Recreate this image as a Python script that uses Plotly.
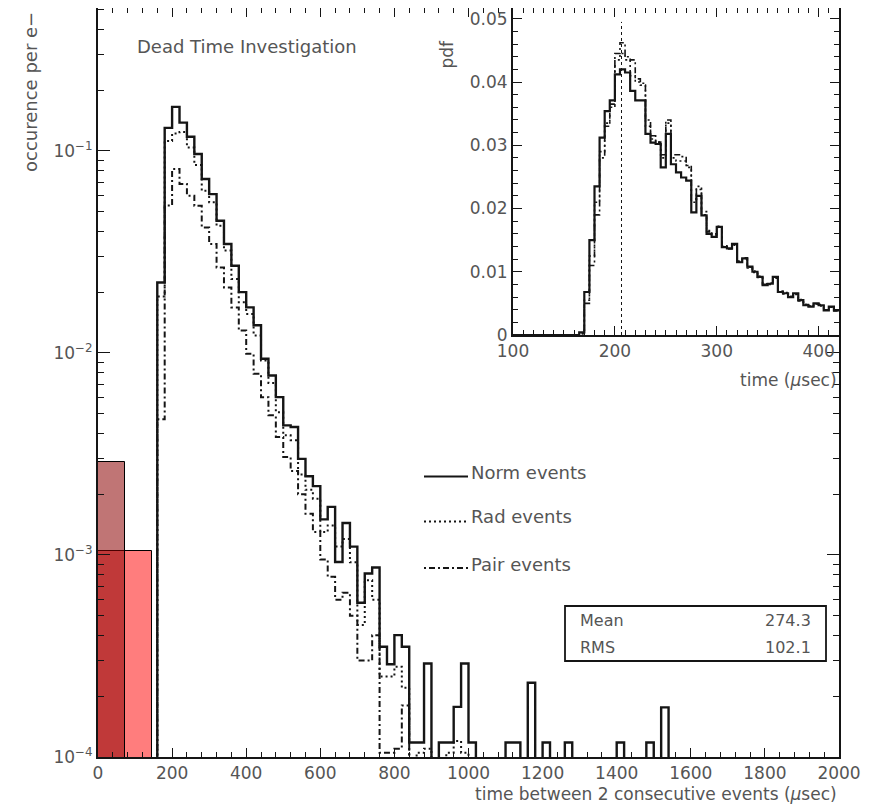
import plotly.graph_objects as go

# ---------------- data ----------------
bin_width = 20
bin_start = 160
norm_main = [0.0223, 0.130, 0.165, 0.138, 0.1175, 0.0964, 0.0726, 0.0611, 0.0451, 0.0346,
             0.0270, 0.0200, 0.0168, 0.0137, 0.00935, 0.00773, 0.00604, 0.00438, 0.00430, 0.00299,
             0.00245, 0.00219, 0.00150, 0.00173, 0.000923, 0.00144, 0.00110, 0.000580, 0.000809, 0.000867,
             0.000351, 0.000288, 0.000401, 0.000351, 0.000118, 0.000118, 0.000290, 0, 0.000118, 0.000118,
             0.000177, 0.000290, 0.000118, 0, 0, 0, 0, 0.000118, 0.000118, 0,
             0.000233, 0, 0.000118, 0, 0, 0.000118, 0, 0, 0, 0,
             0, 0, 0.000118, 0, 0, 0, 0.000118, 0, 0.000176]
rad_main = [0.019, 0.112, 0.122, 0.124, 0.104, 0.085, 0.0635, 0.0556, 0.0426, 0.0321,
            0.0232, 0.0178, 0.0156, 0.0122, 0.00916, 0.0071, 0.00509, 0.00391, 0.0037, 0.0025,
            0.0021, 0.0019, 0.0013, 0.0014, 0.0011, 0.0012, 0.00092, 0.00045, 0.00075, 0.00060,
            0.00025, 0.00025, 0.00028, 0.00022, 0, 0.000105, 0.00011, 0, 0, 0.000105,
            0.00012, 0.000105]
pair_main = [0.0047, 0.0536, 0.0813, 0.0686, 0.060, 0.0535, 0.0418, 0.0346, 0.0265, 0.0211,
             0.0168, 0.0129, 0.00989, 0.00788, 0.00604, 0.00491, 0.00383, 0.00305, 0.0026, 0.0020,
             0.0016, 0.0013, 0.00095, 0.00078, 0.0006, 0.00065, 0.0005, 0.00030, 0.00030, 0.0004,
             0.000105, 0.000105, 0.00011, 0.00018]

# red overlay bars
red_bar_x = [36.5, 110.0]
red_bar_y = [0.00105, 0.00105]
dark_bar_x = [36.5]
dark_bar_y = [0.0029]
bar_w = 73

# inset (pdf), 5 usec bins
inset_start = 160
inset_width = 5
norm_inset = [0, 0.0004, 0.0068, 0.0150, 0.0235, 0.0312, 0.0354, 0.0371, 0.0412, 0.0420,
              0.0415, 0.0386, 0.0371, 0.0371, 0.0318, 0.0304, 0.0302, 0.0265, 0.0318, 0.0270,
              0.0257, 0.0249, 0.0244, 0.0194, 0.0220, 0.0189, 0.0160, 0.0155, 0.0171, 0.0139,
              0.0137, 0.0144, 0.0115, 0.0121, 0.0108, 0.0100, 0.0092, 0.0079, 0.0081, 0.0092,
              0.0068, 0.0066, 0.0060, 0.0066, 0.0055, 0.0047, 0.0045, 0.0050, 0.0047, 0.0039,
              0.0045, 0.0039]
rad_inset = [0, 0.0002, 0.0055, 0.0125, 0.021, 0.029, 0.0335, 0.036, 0.0435, 0.0445,
             0.0435, 0.041, 0.040, 0.0395, 0.033, 0.031, 0.0305, 0.028, 0.0335, 0.028,
             0.0275, 0.0275, 0.0265, 0.021, 0.0235, 0.019, 0.0165, 0.016, 0.0172, 0.014,
             0.0138, 0.0142, 0.0117, 0.012, 0.0106, 0.0101, 0.0093, 0.0081, 0.0082, 0.009,
             0.0069, 0.0067, 0.0061, 0.0064, 0.0056, 0.0048, 0.0046, 0.0049, 0.0046, 0.0040,
             0.0044, 0.0040]
pair_inset = [0, 0.0002, 0.005, 0.011, 0.019, 0.028, 0.033, 0.0365, 0.0445, 0.0462,
              0.044, 0.0435, 0.0405, 0.0398, 0.034, 0.0315, 0.0305, 0.0285, 0.034, 0.0285,
              0.0285, 0.0282, 0.0268, 0.0215, 0.023, 0.0195, 0.0163, 0.0158, 0.0170, 0.0141,
              0.0136, 0.0143, 0.0116, 0.0122, 0.0107, 0.0099, 0.0091, 0.0080, 0.0080, 0.0091,
              0.0069, 0.0065, 0.0061, 0.0065, 0.0054, 0.0048, 0.0046, 0.0049, 0.0048, 0.0040,
              0.0044, 0.0038]
peak_marker = 206.5

stat_labels = ["Mean", "RMS"]
stat_values = ["274.3", "102.1"]

x_ticks = list(range(0, 2001, 200))
y_ticks = [1e-4, 1e-3, 1e-2, 1e-1]
y_ticktext = ["10<sup>\u22124</sup>", "10<sup>\u22123</sup>", "10<sup>\u22122</sup>", "10<sup>\u22121</sup>"]
inset_xticks = [100, 200, 300, 400]
inset_yticks = [0, 0.01, 0.02, 0.03, 0.04, 0.05]
inset_yticktext = ["0", "0.01", "0.02", "0.03", "0.04", "0.05"]

# ---------------- helpers ----------------
def steps(start, width, vals, floor):
    edges = [start + i * width for i in range(len(vals) + 1)]
    xs = [edges[0]] + edges[:-1] + [edges[-1]]
    ys = [floor] + [v if v > 0 else floor for v in vals] + [floor]
    return xs, ys

# page-pixel -> paper (plot area spans page x 98..839, y 8..757; body margin 8px)
def px(x):
    return (x - 98) / 741.0

def py(y):
    return (757 - y) / 749.0

INK = "#151515"
TXT = "#555555"
FONT = "DejaVu Sans"

fig = go.Figure()

# red bars
fig.add_trace(go.Bar(x=red_bar_x, y=red_bar_y, width=[bar_w] * len(red_bar_x),
                     marker=dict(color="rgba(255,0,0,0.51)", line=dict(color="black", width=1)),
                     xaxis="x", yaxis="y", showlegend=False))
fig.add_trace(go.Bar(x=dark_bar_x, y=dark_bar_y, width=[bar_w] * len(dark_bar_x),
                     marker=dict(color="rgba(138,0,0,0.54)", line=dict(color="black", width=1)),
                     xaxis="x", yaxis="y", showlegend=False))

floor_main = 1e-6
for name, vals, dash, w in [("Pair", pair_main, "2px,3px,6px,3px", 2),
                            ("Rad", rad_main, "2px,3px", 2),
                            ("Norm", norm_main, "solid", 2.4)]:
    xs, ys = steps(bin_start, bin_width, vals, floor_main)
    fig.add_trace(go.Scatter(x=xs, y=ys, mode="lines", line=dict(color=INK, width=w, dash=dash, shape="hv"),
                             xaxis="x", yaxis="y", showlegend=False, name=name))

# inset
for name, vals, dash, w in [("Pair", pair_inset, "2px,3px,6px,3px", 1.6),
                            ("Rad", rad_inset, "2px,3px", 1.6),
                            ("Norm", norm_inset, "solid", 2.2)]:
    edges = [inset_start + i * inset_width for i in range(len(vals) + 1)]
    xs = [100] + edges[:-1] + [edges[-1]]
    ys = [0] + list(vals) + [vals[-1]]
    fig.add_trace(go.Scatter(x=xs, y=ys, mode="lines", line=dict(color=INK, width=w, dash=dash, shape="hv"),
                             xaxis="x2", yaxis="y2", showlegend=False, name=name))

minor_y = [k * 10 ** e for e in range(-4, 0) for k in range(2, 10)]

axis_common = dict(showline=True, linecolor=INK, mirror="ticks", ticks="inside", showgrid=False,
                   zeroline=False, tickcolor=INK, tickfont=dict(family=FONT, size=17, color=TXT))

fig.update_layout(
    width=872, height=802,
    margin=dict(l=90, r=41, t=0, b=53, autoexpand=False),
    paper_bgcolor="white", plot_bgcolor="white",
    barmode="overlay", bargap=0,
    xaxis=dict(domain=[0, 1], range=[0, 2000], anchor="y", tickvals=x_ticks, ticklen=9, tickwidth=1,
               linewidth=2, minor=dict(dtick=40, tick0=0, ticks="inside", ticklen=5, tickcolor=INK),
               **axis_common),
    yaxis=dict(domain=[0, 1], type="log", range=[-4, -0.293], anchor="x", tickvals=y_ticks,
               ticktext=y_ticktext, ticklen=12, tickwidth=1, linewidth=2,
               minor=dict(tickvals=minor_y, ticks="inside", ticklen=6, tickcolor=INK),
               **axis_common),
    xaxis2=dict(domain=[px(513), 1], range=[100, 420], anchor="y2", tickvals=inset_xticks, ticklen=9,
                linewidth=2, minor=dict(dtick=10, tick0=100, ticks="inside", ticklen=5, tickcolor=INK),
                **axis_common),
    yaxis2=dict(domain=[py(335), 1], range=[0, 0.0517], anchor="x2", tickvals=inset_yticks,
                ticktext=inset_yticktext, ticklen=9, linewidth=2,
                minor=dict(dtick=0.002, tick0=0, ticks="inside", ticklen=5, tickcolor=INK),
                **axis_common),
)

# inset peak marker
fig.add_shape(type="line", xref="x2", yref="y2", x0=peak_marker, x1=peak_marker, y0=0, y1=0.0495,
              line=dict(color=INK, width=1, dash="dot"))

# legend drawn ROOT-style
leg_items = [("Norm events", "solid", 476.5, 472), ("Rad events", "2px,3px", 521.5, 517),
             ("Pair events", "2px,3px,6px,3px", 568, 564)]
for text, dash, ly, ty in leg_items:
    fig.add_shape(type="line", xref="paper", yref="paper", x0=px(424), x1=px(468), y0=py(ly), y1=py(ly),
                  line=dict(color=INK, width=2.2, dash=dash))
    fig.add_annotation(x=px(469), y=py(ty), xref="paper", yref="paper", text=text, showarrow=False,
                       xanchor="left", yanchor="middle", font=dict(family=FONT, size=18, color=TXT))

# stats box
fig.add_shape(type="rect", xref="paper", yref="paper", x0=px(565), x1=px(826), y0=py(661), y1=py(606),
              line=dict(color=INK, width=1.8), fillcolor="white")
for i, (lab, val) in enumerate(zip(stat_labels, stat_values)):
    yy = 620 + i * 27
    fig.add_annotation(x=px(578), y=py(yy), xref="paper", yref="paper", text=lab, showarrow=False,
                       xanchor="left", yanchor="middle", font=dict(family=FONT, size=16, color=TXT))
    fig.add_annotation(x=px(813), y=py(yy), xref="paper", yref="paper", text=val, showarrow=False,
                       xanchor="right", yanchor="middle", font=dict(family=FONT, size=16, color=TXT))

# titles
fig.add_annotation(x=px(135), y=py(47), xref="paper", yref="paper", text="Dead Time Investigation",
                   showarrow=False, xanchor="left", yanchor="middle", font=dict(family=FONT, size=18, color=TXT))
fig.add_annotation(x=px(30), y=py(10), xref="paper", yref="paper", text="occurence per e\u2212",
                   textangle=-90, showarrow=False, xanchor="center", yanchor="top",
                   font=dict(family=FONT, size=18, color=TXT))
fig.add_annotation(x=1.0, y=py(794), xref="paper", yref="paper",
                   text="time between 2 consecutive events (<i>\u00b5</i>sec)",
                   showarrow=False, xanchor="right", yanchor="middle", font=dict(family=FONT, size=17, color=TXT))
fig.add_annotation(x=px(446), y=py(38), xref="paper", yref="paper", text="pdf", textangle=-90,
                   showarrow=False, xanchor="center", yanchor="top", font=dict(family=FONT, size=17, color=TXT))
fig.add_annotation(x=1.0, y=py(380), xref="paper", yref="paper", text="time (<i>\u00b5</i>sec)",
                   showarrow=False, xanchor="right", yanchor="middle", font=dict(family=FONT, size=17, color=TXT))

fig.write_html("out.html")
